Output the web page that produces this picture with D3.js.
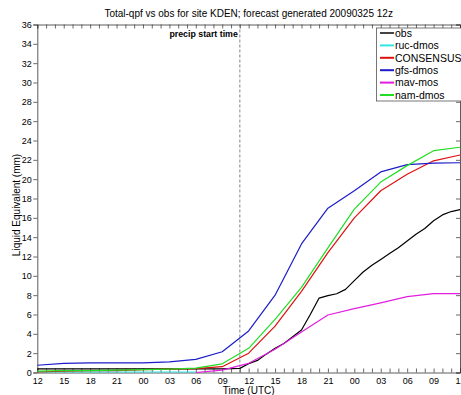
<!DOCTYPE html>
<html><head><meta charset="utf-8">
<script src="https://cdn.jsdelivr.net/npm/d3@7"></script>
<style>body{margin:0;background:#fff}svg{display:block}text{font-family:"Liberation Sans",Arial,Helvetica,sans-serif}</style>
</head><body><svg id="c" width="461" height="395"></svg>
<script>
// ---- data ----
const hours3 = [0,3,6,9,12,15,18,21,24,27,30,33,36,39,42,45,48];
const xTickLabels = ["12","15","18","21","00","03","06","09","12","15","18","21","00","03","06","09","12"];
const yTicks = [0,2,4,6,8,10,12,14,16,18,20,22,24,26,28,30,32,34,36];
const seriesNames = ["obs","ruc-dmos","CONSENSUS","gfs-dmos","mav-mos","nam-dmos"];
const seriesColors = ["#000000","#33e6e6","#dd1111","#1c1cc8","#e01ee0","#22dd22"];
const obsHours = d3.range(0,49);
const obsVals = [0.38,0.38,0.38,0.38,0.38,0.38,0.38,0.38,0.38,0.38,0.38,0.38,0.38,0.38,0.38,0.38,0.38,0.38,0.38,0.38,0.38,0.38,0.4,
  0.43,0.9,1.25,1.9,2.5,3.0,3.7,4.4,6.0,7.7,7.95,8.15,8.6,9.5,10.4,11.1,11.7,12.3,12.9,13.6,14.3,14.9,15.7,16.3,16.65,16.85];
const rucHours = [0,3,6,9,12,15,18];
const rucVals = [0.05,0.05,0.05,0.05,0.05,0.05,0.05];
const consVals = [0.05,0.15,0.2,0.2,0.3,0.35,0.4,0.6,2.0,4.8,8.4,12.4,16.0,18.8,20.5,21.9,22.5];
const gfsVals = [0.75,0.95,1.0,1.0,1.0,1.1,1.35,2.15,4.3,8.0,13.3,17.0,18.8,20.75,21.5,21.65,21.7];
const mavHours = [18,21,24,27,30,33,36,39,42,45,48];
const mavVals = [0.0,0.25,0.95,2.4,4.2,5.95,6.6,7.2,7.85,8.15,8.15];
const namVals = [0.15,0.2,0.2,0.25,0.3,0.35,0.45,0.9,2.5,5.5,8.8,12.9,16.9,19.7,21.4,22.95,23.3];
const precipStartHour = 23;
const titleText = "Total-qpf vs obs for site KDEN; forecast generated 20090325 12z";

// ---- layout ----
const L = 37.3, R = 460, T = 24.5, B = 372.5;
const svg = d3.select("#c");
const x = d3.scaleLinear().domain([0,48]).range([L,R]);
const y = d3.scaleLinear().domain([0,36]).range([B,T]);

const series = [
  {name:seriesNames[0], color:seriesColors[0], h:obsHours, v:obsVals},
  {name:seriesNames[1], color:seriesColors[1], h:rucHours, v:rucVals},
  {name:seriesNames[2], color:seriesColors[2], h:hours3, v:consVals},
  {name:seriesNames[3], color:seriesColors[3], h:hours3, v:gfsVals},
  {name:seriesNames[4], color:seriesColors[4], h:mavHours, v:mavVals},
  {name:seriesNames[5], color:seriesColors[5], h:hours3, v:namVals}
];

// title
svg.append("text").attr("x",(L+R)/2).attr("y",17).attr("text-anchor","middle")
  .attr("font-size","10px").text(titleText);

// axes
const xb = svg.append("g").attr("transform",`translate(0,${B})`)
  .call(d3.axisBottom(x).tickValues(d3.range(0,49)).tickSize(-4).tickPadding(5).tickFormat(d=>d%3===0?xTickLabels[d/3]:""));
const xt = svg.append("g").attr("transform",`translate(0,${T})`)
  .call(d3.axisTop(x).tickValues(d3.range(0,49)).tickSize(-4).tickFormat(""));
const yl = svg.append("g").attr("transform",`translate(${L},0)`)
  .call(d3.axisLeft(y).tickValues(yTicks).tickSize(4).tickPadding(1.5));
const yr = svg.append("g").attr("transform",`translate(${R},0)`)
  .call(d3.axisRight(y).tickValues(yTicks).tickSize(-4).tickFormat(""));
[xb,xt,yl,yr].forEach(g=>{
  g.select(".domain").attr("stroke","#333").attr("stroke-width",0.8);
  g.selectAll(".tick line").attr("stroke","#444").attr("stroke-width",0.8);
  g.selectAll(".tick text").attr("font-size","9px").attr("fill","#000")
   .attr("font-family","'Liberation Sans',Arial,sans-serif");
});

// axis labels
svg.append("text").attr("x",(L+R)/2).attr("y",393.5).attr("text-anchor","middle")
  .attr("font-size","10px").text("Time (UTC)");
svg.append("text").attr("transform","translate(20,205) rotate(-90)").attr("text-anchor","middle")
  .attr("font-size","10px").text("Liquid Equivalent (mm)");

// precip start line
svg.append("line").attr("x1",x(precipStartHour)).attr("x2",x(precipStartHour))
  .attr("y1",T).attr("y2",B).attr("stroke","#666").attr("stroke-width",0.8).attr("stroke-dasharray","3,2");
svg.append("text").attr("x",x(precipStartHour)-2).attr("y",37).attr("text-anchor","end")
  .attr("font-size","8.8px").attr("font-weight","bold").text("precip start time");

// lines
const line = d3.line().x(d=>x(d[0])).y(d=>y(d[1]));
series.forEach(s=>{
  svg.append("path").datum(s.h.map((h,i)=>[h,s.v[i]]))
    .attr("d",line).attr("fill","none").attr("stroke",s.color).attr("stroke-width",1.2)
    .attr("stroke-linejoin","round");
});

// legend
const lg = svg.append("g");
lg.append("rect").attr("x",376.5).attr("y",28).attr("width",90).attr("height",73)
  .attr("fill","#fff").attr("stroke","#555").attr("stroke-width",0.8);
series.forEach((s,i)=>{
  const yy = 33 + i*12.4;
  lg.append("line").attr("x1",380).attr("x2",394).attr("y1",yy).attr("y2",yy)
    .attr("stroke",s.color===seriesColors[0]?"#444":s.color).attr("stroke-width",2);
  lg.append("text").attr("x",395).attr("y",yy+3.8).attr("font-size","10.5px").text(s.name);
});
</script></body></html>
